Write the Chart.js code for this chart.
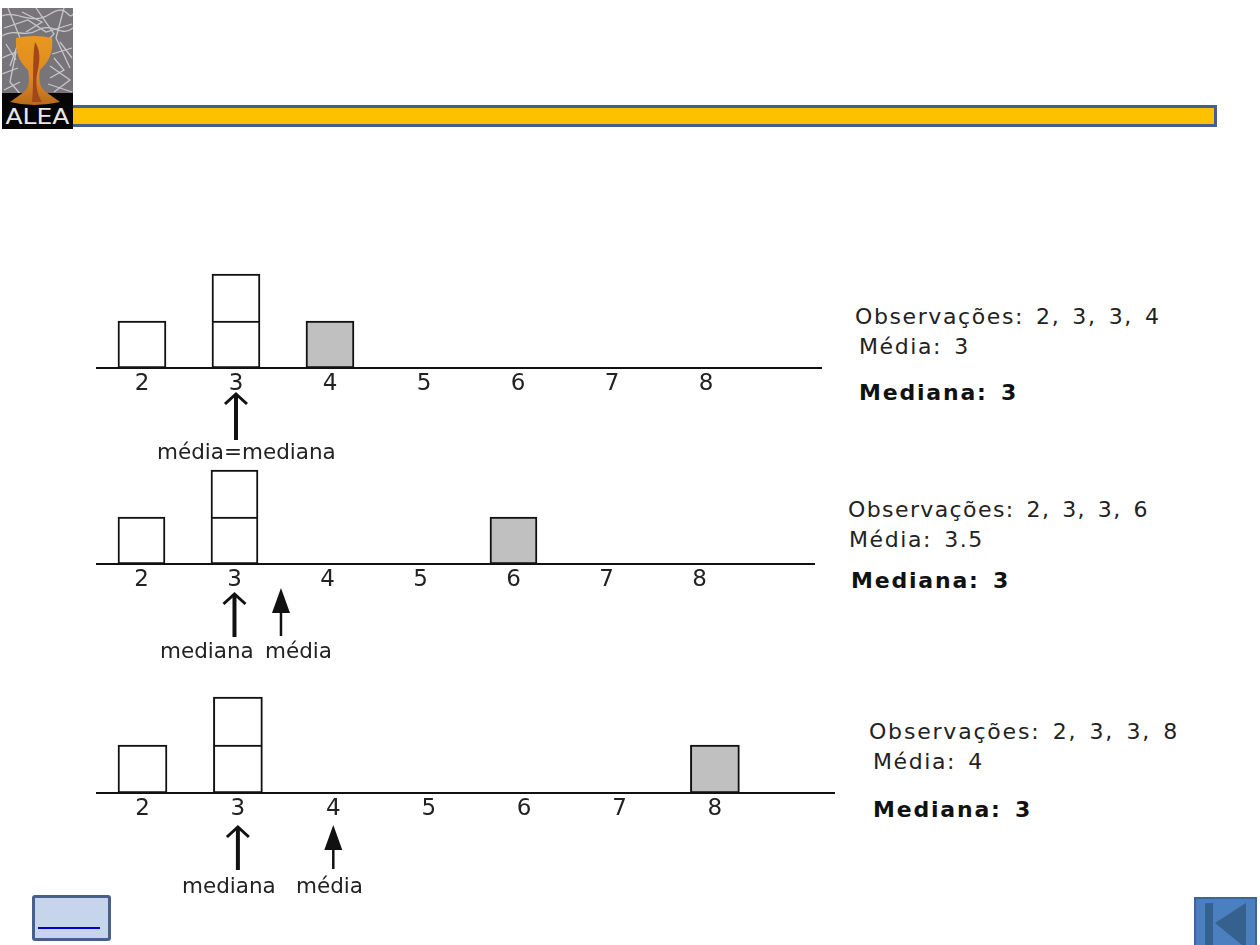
<!DOCTYPE html>
<html>
<head>
<meta charset="utf-8">
<title>Média e mediana</title>
<script src="https://cdn.jsdelivr.net/npm/chart.js@4"></script>
<style>
html, body { margin: 0; padding: 0; background: #fff; overflow: hidden; }
body { width: 1260px; height: 945px; position: relative; font-family: "DejaVu Sans", sans-serif; color: #222; }
canvas { position: absolute; }
svg { position: absolute; }
.txt { position: absolute; white-space: nowrap; line-height: 1; font-size: 22px; letter-spacing: 1.6px; word-spacing: 3.5px; }
.b { font-weight: bold; letter-spacing: 1.8px; word-spacing: 4px; color: #111; }
#bar { position: absolute; left: 73px; top: 105px; width: 1141px; height: 16px; background: #ffc000; border: 3px solid #41608c; border-left: 0; }
#home { position: absolute; left: 32px; top: 895px; width: 73px; height: 40px; background: #c6d5ec; border: 3px solid #47618c; border-radius: 3px; }
#home a { position: absolute; left: 3px; top: 29px; width: 62px; height: 2px; background: #0000d0; display: block; }
</style>
</head>
<body>
<svg id="logo" style="left:2px;top:8px" width="71" height="121" viewBox="0 0 71 121">
  <defs>
    <linearGradient id="cup" x1="0" y1="0" x2="0" y2="1">
      <stop offset="0" stop-color="#e8981e"/>
      <stop offset=".6" stop-color="#de8a20"/>
      <stop offset="1" stop-color="#b86a1c"/>
    </linearGradient>
  </defs>
  <rect width="71" height="121" fill="#77747a"/>
  <g stroke="#dcdce0" stroke-width="1.3" fill="none" opacity=".8">
    <path d="M0 8 C15 2 30 18 48 6 S66 14 71 6"/><path d="M2 20 L26 12 L44 24 L70 16"/><path d="M0 28 C12 20 22 30 36 22 S60 30 71 20"/>
    <path d="M6 0 L18 30 L8 58"/><path d="M34 0 L52 26 L44 34"/><path d="M62 0 L54 30 L68 60"/><path d="M0 50 L14 44 L8 74 L20 88"/>
    <path d="M50 46 L70 40"/><path d="M48 58 L68 72 L52 84"/><path d="M0 66 L16 60"/><path d="M46 76 L70 84"/><path d="M2 82 L18 74"/>
    <path d="M20 4 L40 14 L24 24"/><path d="M52 50 L62 62 L48 70"/><path d="M4 36 L14 52"/><path d="M58 34 L70 50"/>
  </g>
  <rect y="85" width="71" height="36" fill="#060606"/>
  <path d="M14 30 Q32 26 50 30 C52 48 44 56 38 62 C36 72 38 80 44 84 L58 94 Q32 100 8 94 L22 84 C27 80 28 72 26 62 C20 56 13 48 14 30 Z" fill="url(#cup)"/>
  <path d="M33 34 C40 44 37 58 35 66 C33 78 36 88 40 94 H30 C32 78 30 50 33 34 Z" fill="#a3461e"/>
  <text x="35.5" y="116" text-anchor="middle" font-family="DejaVu Sans" font-size="22" fill="#e8e8e8" textLength="64" lengthAdjust="spacingAndGlyphs">ALEA</text>
</svg>
<div id="bar"></div>

<canvas id="c1"></canvas>
<canvas id="c2"></canvas>
<canvas id="c3"></canvas>

<div class="txt" style="left:855px;top:306px">Observações: 2, 3, 3, 4</div>
<div class="txt" style="left:859px;top:336px">Média: 3</div>
<div class="txt b" style="left:859px;top:382px">Mediana: 3</div>
<div class="txt" style="left:848px;top:499px;letter-spacing:1.4px">Observações: 2, 3, 3, 6</div>
<div class="txt" style="left:849px;top:529px">Média: 3.5</div>
<div class="txt b" style="left:851px;top:570px">Mediana: 3</div>
<div class="txt" style="left:869px;top:721px;letter-spacing:1.8px">Observações: 2, 3, 3, 8</div>
<div class="txt" style="left:873px;top:751px">Média: 4</div>
<div class="txt b" style="left:873px;top:799px">Mediana: 3</div>

<div id="home"><a href="#"></a></div>
<svg style="left:1194px;top:897px" width="64" height="48">
  <rect x="1" y="1" width="61" height="48" fill="#4a7fc0" stroke="#3d6596" stroke-width="2"/>
  <rect x="11" y="6" width="8" height="42" fill="#35618f"/>
  <path d="M52 6 V48 H48 L21 26 Z" fill="#35618f"/>
</svg>

<script>
// classes do histograma
const categories = [2, 3, 4, 5, 6, 7, 8];

// quantas observacoes em cada classe: 1a e 2a camada, e a que muda (cinza)
const lower1 = [1, 1, 0, 0, 0, 0, 0];
const upper1 = [0, 1, 0, 0, 0, 0, 0];
const gray1  = [0, 0, 1, 0, 0, 0, 0];

const lower2 = [1, 1, 0, 0, 0, 0, 0];
const upper2 = [0, 1, 0, 0, 0, 0, 0];
const gray2  = [0, 0, 0, 0, 1, 0, 0];

const lower3 = [1, 1, 0, 0, 0, 0, 0];
const upper3 = [0, 1, 0, 0, 0, 0, 0];
const gray3  = [0, 0, 0, 0, 0, 0, 1];

// setas: valor no eixo
const median = 3;
const mean1 = 3;
const mean2 = 3.5;
const mean3 = 4;

function points(vals) {
    return categories.map((c, i) => ({ x: c, y: vals[i] })).filter(p => p.y > 0);
}

function solidArrow(ctx, x, tip, end) {
    ctx.beginPath();
    ctx.moveTo(x, end);
    ctx.lineTo(x, tip + 2);
    ctx.lineWidth = 4;
    ctx.stroke();
    ctx.beginPath();
    ctx.moveTo(x - 11, tip + 11);
    ctx.lineTo(x, tip + 1);
    ctx.lineTo(x + 11, tip + 11);
    ctx.lineWidth = 3;
    ctx.stroke();
}

function fatArrow(ctx, x, tip, end) {
    ctx.beginPath();
    ctx.moveTo(x, end);
    ctx.lineTo(x, tip + 20);
    ctx.lineWidth = 2.5;
    ctx.stroke();
    ctx.beginPath();
    ctx.moveTo(x, tip);
    ctx.lineTo(x + 9, tip + 25);
    ctx.lineTo(x - 9, tip + 25);
    ctx.closePath();
    ctx.fill();
}

function drawPanel(id, p) {
    const el = document.getElementById(id);
    el.style.left = p.left + 'px';
    el.style.top = p.top + 'px';
    el.width = p.width;
    el.height = p.height;

    const arrows = {
        id: 'arrows',
        afterDraw(chart) {
            const ctx = chart.ctx;
            const x = chart.scales.x;
            const base = chart.scales.y.getPixelForValue(0);
            ctx.save();
            ctx.strokeStyle = '#111';
            ctx.fillStyle = '#111';
            solidArrow(ctx, x.getPixelForValue(median), base + p.tip, base + p.tip + p.len);
            if (p.mean !== median) {
                fatArrow(ctx, x.getPixelForValue(p.mean), base + p.meanTip, base + p.tip + p.len - 1);
            }
            ctx.font = '21.5px "DejaVu Sans"';
            ctx.fillStyle = '#222';
            ctx.textBaseline = 'middle';
            ctx.textAlign = 'left';
            p.labels.forEach(l => ctx.fillText(l.text, l.x - p.left, base + l.dy));
            ctx.restore();
        }
    };

    new Chart(el, {
        type: 'bar',
        data: {
            datasets: [
                { data: points(p.lower), backgroundColor: '#fff', stack: 's', clip: false },
                { data: points(p.upper), backgroundColor: '#fff', stack: 's', clip: false,
                  borderWidth: { top: 2, left: 2, right: 2, bottom: 0 } },
                { data: points(p.gray), backgroundColor: '#c0c0c0', stack: 's', clip: false }
            ]
        },
        options: {
            responsive: false,
            animation: false,
            layout: { padding: { top: p.padTop, left: 0, right: 0, bottom: 0 } },
            elements: { bar: { borderColor: '#111', borderWidth: 2, borderSkipped: false } },
            datasets: { bar: { barThickness: p.barW } },
            plugins: { legend: { display: false }, tooltip: { enabled: false } },
            scales: {
                x: {
                    type: 'linear',
                    offset: false,
                    stacked: true,
                    min: p.xMin,
                    max: p.xMax,
                    afterFit(s) { s.height = p.axisH; },
                    afterBuildTicks(s) { s.ticks = categories.map(c => ({ value: c })); },
                    grid: { display: false, drawTicks: false },
                    border: { color: '#111', width: 2 },
                    ticks: {
                        padding: 2,
                        maxRotation: 0,
                        autoSkip: false,
                        color: '#222',
                        font: { family: 'DejaVu Sans', size: 23 }
                    }
                },
                y: {
                    display: false,
                    stacked: true,
                    min: 0,
                    max: 2
                }
            }
        },
        plugins: [arrows]
    });
}

drawPanel('c1', {
    left: 96, top: 264, width: 726, height: 204, padTop: 10, axisH: 100, barW: 48,
    xMin: 1.511, xMax: 9.234,
    lower: lower1, upper: upper1, gray: gray1, mean: mean1, tip: 25, meanTip: 25, len: 47,
    labels: [{ text: 'média=mediana', x: 157, dy: 85 }]
});
drawPanel('c2', {
    left: 96, top: 460, width: 719, height: 204, padTop: 10, axisH: 100, barW: 47,
    xMin: 1.511, xMax: 9.242,
    lower: lower2, upper: upper2, gray: gray2, mean: mean2, tip: 29, meanTip: 24, len: 44,
    labels: [{ text: 'mediana', x: 160, dy: 88 }, { text: 'média', x: 265, dy: 88 }]
});
drawPanel('c3', {
    left: 96, top: 687, width: 739, height: 206, padTop: 10, axisH: 100, barW: 49,
    xMin: 1.5126, xMax: 9.259,
    lower: lower3, upper: upper3, gray: gray3, mean: mean3, tip: 33, meanTip: 32, len: 44,
    labels: [{ text: 'mediana', x: 182, dy: 94 }, { text: 'média', x: 296, dy: 94 }]
});
</script>
</body>
</html>
